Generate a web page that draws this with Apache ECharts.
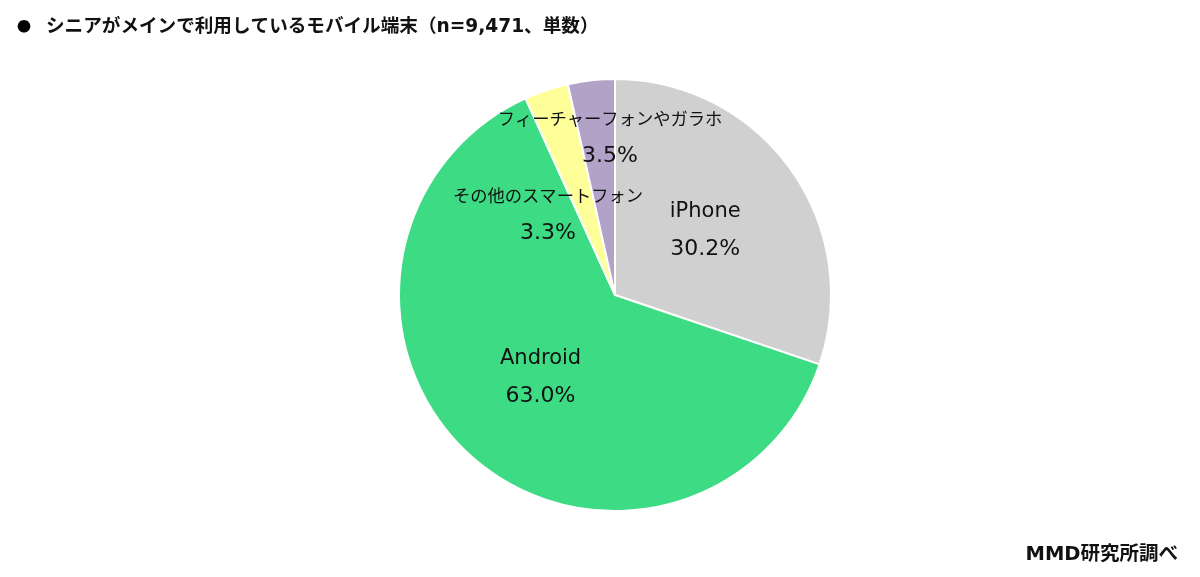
<!DOCTYPE html>
<html><head><meta charset="utf-8">
<script src="https://cdn.jsdelivr.net/npm/echarts@6/dist/echarts.min.js"></script>
<style>html,body{margin:0;padding:0;background:#fff}#c{width:1200px;height:577px}</style>
</head><body><div id="c"></div>
<script>
const categories = ['iPhone', 'Android', 'その他のスマートフォン', 'フィーチャーフォンやガラホ'];
const values = [30.2, 63.0, 3.3, 3.5];
const colors = ['#d0d0d0', '#3ddc84', '#ffff99', '#b3a2c7'];
const titleText = 'シニアがメインで利用しているモバイル端末（n=9,471、単数）';
const sourceText = 'MMD研究所調べ';
const labelPos = {2: [548, 214], 3: [610, 137]};

const chart = echarts.init(document.getElementById('c'));
const font = '"DejaVu Sans", "Noto Sans CJK JP", sans-serif';
const jfont = '"Noto Sans CJK JP", sans-serif';
chart.setOption({
  backgroundColor: '#fff',
  animation: false,
  title: [
    {text: '●', left: 12, top: 14, textStyle: {fontSize: 14, color: '#000', fontFamily: jfont, fontWeight: 'normal'}},
    {text: titleText, left: 41, top: 13, textStyle: {fontSize: 18.6, color: '#111', fontFamily: font, fontWeight: 'bold'}},
    {text: sourceText, right: 17, top: 540, textStyle: {fontSize: 19.5, color: '#111', fontFamily: font, fontWeight: 'bold'}}
  ],
  series: [{
    type: 'pie',
    center: [615, 295],
    radius: 216,
    startAngle: 90,
    clockwise: true,
    itemStyle: {borderColor: '#fff', borderWidth: 2},
    label: {
      show: true,
      position: 'inside',
      formatter: p => (/^[\x00-\x7f]+$/.test(p.name) ? '{n|' + p.name + '}' : '{j|' + p.name + '}') + '\n{v|' + p.value.toFixed(1) + '%}',
      color: '#111',
      lineHeight: 38,
      rich: {
        n: {fontSize: 21, lineHeight: 38, fontFamily: font, color: '#111'},
        j: {fontSize: 17.3, lineHeight: 38, fontFamily: jfont, color: '#111'},
        v: {fontSize: 22, lineHeight: 38, fontFamily: font, color: '#111'}
      }
    },
    labelLine: {show: false},
    labelLayout: function (params) {
      const p = labelPos[params.dataIndex];
      if (p) return {x: p[0], y: p[1], align: 'center', verticalAlign: 'middle'};
      return {};
    },
    data: categories.map((c, i) => ({name: c, value: values[i], itemStyle: {color: colors[i]}}))
  }]
});
</script></body></html>
